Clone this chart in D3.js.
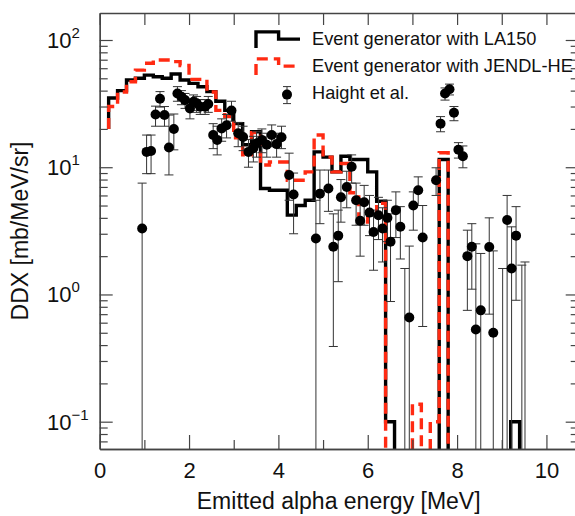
<!DOCTYPE html>
<html>
<head>
<meta charset="utf-8">
<script src="https://cdn.jsdelivr.net/npm/d3@7"></script>
<style>
  body { margin: 0; background: #fff; }
  svg { display: block; font-family: "Liberation Sans", Arial, sans-serif; }
</style>
</head>
<body>
<svg id="chart"></svg>
<script>
const width = 575;
const height = 516;

// Histogram bins (lower edge, MeV), 0.2 MeV wide
const binLo = [0.2, 0.4, 0.6, 0.8, 1.0, 1.2, 1.4, 1.6, 1.8, 2.0, 2.2, 2.4, 2.6, 2.8, 3.0, 3.2,
  3.4, 3.6, 3.8, 4.0, 4.2, 4.4, 4.6, 4.8, 5.0, 5.2, 5.4, 5.6, 5.8, 6.0, 6.2, 6.4, 6.6, 6.8,
  7.0, 7.2, 7.4, 7.6, 7.8, 8.0, 8.2, 8.4, 8.6, 8.8, 9.0, 9.2, 9.4];
const binWidth = 0.2;
const histStart = 20; // value the step line rises from at the first edge

// Event generator with LA150
const la150 = [35, 40, 48.5, 50, 53, 51.4, 50, 54, 48.5, 45.6, 42.9, 39.3, 33, 28, 22, 15,
  19, 6.8, 6.6, 6.6, 4.2, 5.0, 5.5, 13.2, 12, 9.2, 12.2, 11.5, 11.5, 9.2, 5.4, 0.1, 0, 0,
  0, 0, 0, 11.5, 0, 0, 0, 0, 0, 0, 0, 0.1, 0];
// Event generator with JENDL-HE
const jendl = [30, 39, 47, 58, 65.6, 69.6, 69.6, 67.6, 63, 49, 49, 39, 28, 25, 17, 12.5,
  18.7, 10.4, 11, 11, 7.9, 7.9, 9.2, 17.9, 12, 9.2, 10.7, 6.3, 3.7, 4.2, 5.2, 0, 0, 0,
  0.137, 0, 0.1, 13, 0, 0, 0, 0, 0, 0, 0, 0, 0];

// Haight et al. (value 0 = point below the axis, only the bar is seen)
const haightE = [0.95, 1.05, 1.15, 1.25, 1.35, 1.45, 1.55, 1.66, 1.74, 1.83, 1.91, 2.02, 2.10,
  2.17, 2.25, 2.36, 2.43, 2.54, 2.63, 2.73, 2.84, 2.95, 3.10, 3.21, 3.33, 3.44, 3.51, 3.63,
  3.74, 3.85, 3.96, 4.07, 4.24, 4.34, 4.84, 4.93, 5.12, 5.23, 5.34, 5.40, 5.53, 5.64, 5.74,
  5.83, 5.92, 6.04, 6.13, 6.24, 6.33, 6.44, 6.51, 6.63, 6.73, 6.83, 6.93, 7.02, 7.13, 7.23,
  7.53, 7.63, 7.73, 7.83, 7.93, 8.03, 8.13, 8.23, 8.33, 8.42, 8.53, 8.72, 8.81, 9.02, 9.12,
  9.22, 9.32, 9.45, 9.52];
const haightV = [3.3, 13.2, 13.4, 26, 34.5, 25.7, 14.3, 20, 38, 35.8, 33.7, 29, 32.7, 31.8,
  29.9, 29.9, 31.4, 17.9, 16.4, 20.2, 21.4, 27.9, 18.5, 17.3, 13.2, 14.1, 15.4, 16.4, 15,
  17.9, 15.2, 17.2, 8.7, 6.1, 2.75, 6.2, 6.8, 2.37, 2.9, 5.8, 7.0, 10.1, 5.5, 3.8, 5.3, 4.4,
  3.1, 4.2, 3.3, 4.0, 2.6, 4.6, 3.4, 0, 0.66, 5.0, 6.6, 2.8, 7.9, 22, 38, 41, 26.8, 13.7,
  12.2, 2.0, 2.37, 0.53, 0.75, 2.36, 0.5, 0, 3.85, 1.6, 2.9, 0, 0];
const haightLo = [0, 8.9, 8.9, 21, 29.7, 21, 8.7, 13.7, 33, 31, 29, 24, 28, 27, 26, 26, 27,
  14, 12.5, 16, 17, 23, 14.5, 13.5, 10, 11, 12, 13, 12, 14.5, 12, 14, 5.5, 3, 0, 3.6, 4.5,
  0.39, 1.26, 3.7, 4.8, 7.5, 3.5, 2.0, 3.5, 2.9, 1.55, 2.7, 1.8, 2.6, 0.88, 2.8, 1.9, 0, 0,
  3.2, 5.0, 0.56, 6.0, 19, 33.7, 37, 23.2, 11.8, 9.9, 0.75, 1.1, 0, 0, 0.7, 0, 0, 0, 0, 0.9,
  0, 0];
const haightHi = [7.5, 17.9, 17.9, 30.2, 39.3, 30, 25.7, 26.2, 43, 40, 38, 33, 37, 36, 34,
  34, 36, 22, 21, 24, 26, 33, 22.5, 21, 16.5, 17.5, 19, 20, 18.5, 21.5, 18.5, 21, 12.9, 9,
  5.5, 9.5, 9.5, 4.3, 4.6, 8, 9.3, 12.5, 7.5, 5.2, 7.2, 6, 4.6, 5.8, 4.8, 5.5, 4.3, 6.4, 4.9,
  1.6, 2.4, 6.4, 8.4, 5.0, 9.9, 25, 42, 45, 30, 15.6, 14.7, 3.2, 3.6, 2.5, 2.1, 4.0, 2.2,
  1.6, 6.0, 3.4, 4.9, 1.7, 1.8];

const xTickLabels = [0, 2, 4, 6, 8, 10];
const xMinorTicks = [1, 3, 5, 7, 9];
const yDecades = [2, 1, 0, -1];
const legendLabels = ["Event generator with LA150", "Event generator with JENDL-HE", "Haight et al."];

const x = d3.scaleLinear().domain([0, 10.7]).range([99.7, 577.7]);
const y = d3.scaleLog().domain([0.061, 163]).range([449, 13]);
const floor = 1e-3; // empty bins fall below the plot and get clipped

const svg = d3.select("#chart")
    .attr("width", width)
    .attr("height", height);

svg.append("clipPath").attr("id", "plot")
  .append("rect")
    .attr("x", x(0)).attr("y", y.range()[1])
    .attr("width", x.range()[1] - x(0))
    .attr("height", y.range()[0] - y.range()[1]);

// Step histogram points
function steps(vals) {
  const pts = [[binLo[0], histStart]];
  vals.forEach((v, i) => pts.push([binLo[i], Math.max(v, floor)]));
  const last = binLo.length - 1;
  pts.push([binLo[last] + binWidth, Math.max(vals[last], floor)]);
  return pts;
}
const stepLine = d3.line()
    .x(d => x(d[0]))
    .y(d => y(d[1]))
    .curve(d3.curveStepAfter);

const plot = svg.append("g").attr("clip-path", "url(#plot)");

plot.append("path")
    .attr("d", stepLine(steps(la150)))
    .attr("fill", "none")
    .attr("stroke", "#000")
    .attr("stroke-width", 3.4);

plot.append("path")
    .attr("d", stepLine(steps(jendl)))
    .attr("fill", "none")
    .attr("stroke", "#ff2a12")
    .attr("stroke-width", 3.4)
    .attr("stroke-dasharray", "11,6");

// Haight et al. points with error bars
const pts = haightE.map((e, i) => ({e, v: haightV[i], lo: haightLo[i], hi: haightHi[i]}));
const capW = 4.5;
const bars = plot.append("g").attr("stroke", "#333").attr("stroke-width", 1);
pts.forEach(d => {
  const cx = x(d.e);
  const yHi = y(d.hi);
  const yLo = d.lo > 0 ? y(d.lo) : 460;
  bars.append("line").attr("x1", cx).attr("x2", cx).attr("y1", yHi).attr("y2", yLo);
  bars.append("line").attr("x1", cx - capW).attr("x2", cx + capW).attr("y1", yHi).attr("y2", yHi);
  if (d.lo > 0)
    bars.append("line").attr("x1", cx - capW).attr("x2", cx + capW).attr("y1", yLo).attr("y2", yLo);
});
plot.append("g")
  .selectAll("circle")
  .data(pts.filter(d => d.v > 0))
  .join("circle")
    .attr("cx", d => x(d.e))
    .attr("cy", d => y(d.v))
    .attr("r", 5)
    .attr("fill", "#000");

// Axes (ticks point inward on all four sides)
const frame = "#444";
const yMinor = y.ticks().filter(v => Math.abs(Math.log10(v) - Math.round(Math.log10(v))) > 1e-6);
const yMajor = yDecades.map(k => Math.pow(10, k));

function styleAxis(g) {
  g.select(".domain").attr("stroke", frame).attr("stroke-width", 1.3);
  g.selectAll(".tick line").attr("stroke", frame).attr("stroke-width", 1.2);
}

svg.append("g")
    .attr("transform", `translate(0,${y.range()[0]})`)
    .call(d3.axisBottom(x).tickValues(xTickLabels).tickSize(-14).tickSizeOuter(0).tickPadding(13))
    .call(styleAxis)
    .call(g => g.selectAll("text").attr("font-size", 22).attr("fill", "#111")
      .attr("font-family", "Liberation Sans, Arial, sans-serif"));
svg.append("g")
    .attr("transform", `translate(0,${y.range()[0]})`)
    .call(d3.axisBottom(x).tickValues(xMinorTicks).tickSize(-9).tickSizeOuter(0).tickFormat(""))
    .call(styleAxis);
svg.append("g")
    .attr("transform", `translate(0,${y.range()[1]})`)
    .call(d3.axisTop(x).tickValues(xTickLabels.concat(xMinorTicks)).tickSize(-12).tickSizeOuter(0).tickFormat(""))
    .call(styleAxis);

svg.append("g")
    .attr("transform", `translate(${x(0)},0)`)
    .call(d3.axisLeft(y).tickValues(yMajor).tickSize(-13).tickSizeOuter(0).tickFormat(""))
    .call(styleAxis);
svg.append("g")
    .attr("transform", `translate(${x(0)},0)`)
    .call(d3.axisLeft(y).tickValues(yMinor).tickSize(-8).tickSizeOuter(0).tickFormat(""))
    .call(styleAxis);
svg.append("g")
    .attr("transform", `translate(${x.range()[1]},0)`)
    .call(d3.axisRight(y).tickValues(yMajor).tickSize(-12).tickSizeOuter(0).tickFormat(""))
    .call(styleAxis);
svg.append("g")
    .attr("transform", `translate(${x.range()[1]},0)`)
    .call(d3.axisRight(y).tickValues(yMinor).tickSize(-7).tickSizeOuter(0).tickFormat(""))
    .call(styleAxis);

// y tick labels 10^k
const yLab = svg.append("g").attr("fill", "#111");
yDecades.forEach(k => {
  const t = yLab.append("text")
      .attr("x", 47)
      .attr("y", y(Math.pow(10, k)) + 8)
      .attr("font-size", 22);
  t.append("tspan").text("10");
  t.append("tspan").attr("dy", -10).attr("font-size", 15).text(k < 0 ? "\u2212" + (-k) : k);
});

// Axis titles
svg.append("text")
    .attr("x", (x(0) + x.range()[1]) / 2)
    .attr("y", 509)
    .attr("text-anchor", "middle")
    .attr("font-size", 23)
    .attr("fill", "#111")
    .text("Emitted alpha energy [MeV]");
svg.append("text")
    .attr("transform", `translate(28,${(y.range()[0] + y.range()[1]) / 2}) rotate(-90)`)
    .attr("text-anchor", "middle")
    .attr("font-size", 23)
    .attr("fill", "#111")
    .text("DDX [mb/MeV/sr]");

// Legend
const leg = svg.append("g").attr("transform", "translate(256,0)");
const legRows = [44.6, 71.6, 98.6];
const legShape = d3.line();
const sample = r => [[0, r + 3.5], [0, r - 12.7], [22.6, r - 12.7], [22.6, r - 5.5], [44, r - 5.5]];
leg.append("path")
    .attr("d", legShape(sample(legRows[0])))
    .attr("fill", "none").attr("stroke", "#000").attr("stroke-width", 3.4);
leg.append("path")
    .attr("d", legShape(sample(legRows[1])))
    .attr("fill", "none").attr("stroke", "#ff2a12").attr("stroke-width", 3.4)
    .attr("stroke-dasharray", "11,6");
leg.append("line")
    .attr("x1", 31).attr("x2", 31).attr("y1", legRows[2] - 12).attr("y2", legRows[2] + 5)
    .attr("stroke", "#333");
leg.append("line")
    .attr("x1", 27).attr("x2", 35).attr("y1", legRows[2] - 12).attr("y2", legRows[2] - 12)
    .attr("stroke", "#333");
leg.append("line")
    .attr("x1", 27).attr("x2", 35).attr("y1", legRows[2] + 5).attr("y2", legRows[2] + 5)
    .attr("stroke", "#333");
leg.append("circle")
    .attr("cx", 31).attr("cy", legRows[2] - 4).attr("r", 5).attr("fill", "#000");
leg.selectAll("text.lab")
  .data(legendLabels)
  .join("text")
    .attr("class", "lab")
    .attr("x", 56)
    .attr("y", (d, i) => legRows[i])
    .attr("font-size", 18.2)
    .attr("fill", "#111")
    .text(d => d);
</script>
</body>
</html>
